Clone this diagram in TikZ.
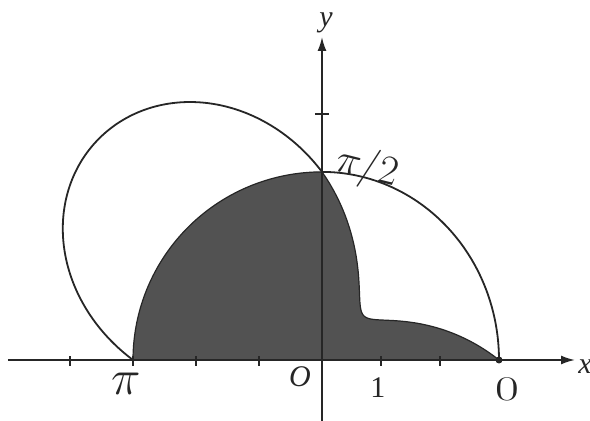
\documentclass[tikz,border=0pt]{standalone}
\usepackage{fontspec}
\usepackage{amsmath}
\usepackage{tikz}
\setmainfont{Liberation Serif}
\usetikzlibrary{
  arrows.meta,
  calc
}
\definecolor{plInk}{HTML}{262626}
\definecolor{plShade}{HTML}{525252}
\tikzset{
  plaxis/.style={-{Latex[length=7pt, width=4.5pt]}, line width=0.9pt, plInk},
  pltick/.style={line width=0.7pt, plInk},
  plcurve/.style={line width=0.9pt, plInk},
  plshade/.style={fill=plShade, draw=plInk, line width=0.6pt},
  pllabel/.style={font=\fontsize{15}{17}\selectfont, inner sep=1pt, plInk},
  plhand/.style={font=\fontsize{30}{32}\selectfont, inner sep=0pt, plInk},
  pldot/.style={circle, fill=plInk, inner sep=0pt, minimum size=3.5pt}
}

\begin{document}
\begin{tikzpicture}[x=0.5pt, y=0.5pt]
  \useasboundingbox (-322,-61) rectangle (268,360);
  % shaded part: inner lobe on the right, circle r=3 on the left
  \draw[plshade] plot[domain=0:90, samples=60, smooth] ({59*(3-2*sin(2*\x))*cos(\x)}, {62.7*(3-2*sin(2*\x))*sin(\x)})
    -- plot[domain=90:180, samples=40, smooth] ({63*3*cos(\x)}, {62.7*3*sin(\x)}) -- cycle;
  % outer curve
  \draw[plcurve] plot[domain=0:90, samples=40, smooth] ({59*3*cos(\x)}, {62.7*3*sin(\x)})
    -- plot[domain=90:180, samples=80, smooth] ({63*(3-2*sin(2*\x))*cos(\x)}, {62.7*(3-2*sin(2*\x))*sin(\x)});
  % axes
  \draw[plaxis] (-314,0) -- (253,0) coordinate (xend);
  \draw[plaxis] (0,-61) -- (0,323) coordinate (yend);
  \foreach \k in {1,...,4} \draw[pltick] (-63*\k,-6) -- (-63*\k,4);
  \foreach \k in {1,2} \draw[pltick] (59*\k,-6) -- (59*\k,4);
  \draw[pltick] (-7,246) -- (7,246);
  \node[pldot] (zero) at (177,0) {};
  % labels
  \node[pllabel, anchor=west] (xlab) at ($(xend)+(1,-7)$) {\textit{x}};
  \node[pllabel, anchor=south] (ylab) at ($(yend)+(4,2)$) {\textit{y}};
  \node[pllabel] (olab) at (-22,-17) {\textit{O}};
  \node[pllabel] (onelab) at (56,-28) {1};
  \node[plhand] (pilab) at (-196,-24) {$\pi$};
  \node[plhand, font=\fontsize{18}{20}\selectfont, xscale=1.5] (zerolab) at (185,-29) {$0$};
  \node[plhand, font=\fontsize{22}{24}\selectfont, rotate=-14] (halfpilab) at (45,192) {$\pi/2$};
\end{tikzpicture}
\end{document}
